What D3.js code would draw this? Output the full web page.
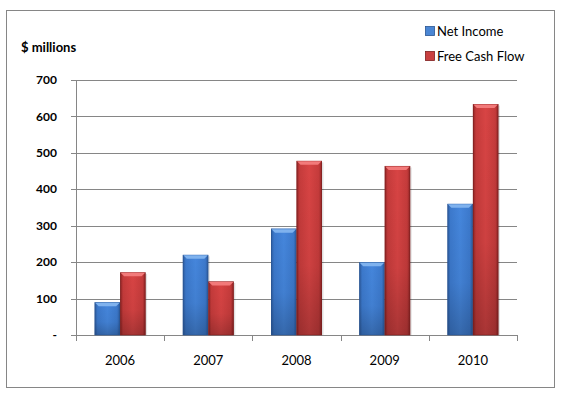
<!DOCTYPE html>
<html><head><meta charset="utf-8">
<script src="https://cdn.jsdelivr.net/npm/d3@7"></script>
<style>
html,body{margin:0;padding:0;background:#fff;}
svg{display:block;font-family:Lato,"Open Sans",sans-serif;}
</style></head>
<body>
<svg id="c" width="564" height="401"></svg>
<script>
const years = ["2006","2007","2008","2009","2010"];
const seriesNames = ["Net Income","Free Cash Flow"];
const netIncome = [90, 220, 292, 200, 360];
const freeCashFlow = [172, 147, 478, 464, 634];
const yTicks = [0,100,200,300,400,500,600,700];
const yTickLabels = ["-","100","200","300","400","500","600","700"];
const yLabel = "$ millions";

const svg = d3.select("#c");
const L = 76, R = 517, T = 80, B = 335;

const x = d3.scaleBand().domain(years).range([L, R]).paddingInner(0).paddingOuter(0);
const bw = 25.5;
const xs = d3.scaleBand().domain(seriesNames).range([0, bw*2]);
const y = d3.scaleLinear().domain([0,700]).range([B, T]);

const defs = svg.append("defs");
function grads(id, dark, mid, light, bottom){
  const g = defs.append("linearGradient").attr("id", id).attr("x1",0).attr("x2",1).attr("y1",0).attr("y2",0);
  [[0,dark],[0.12,mid],[0.5,light],[0.88,mid],[1,dark]].forEach(s=>g.append("stop").attr("offset",s[0]).attr("stop-color",s[1]));
  const v = defs.append("linearGradient").attr("id", id+"v").attr("x1",0).attr("x2",0).attr("y1",0).attr("y2",1);
  v.append("stop").attr("offset",0).attr("stop-color","#000").attr("stop-opacity",0);
  v.append("stop").attr("offset",0.6).attr("stop-color","#000").attr("stop-opacity",0.05);
  v.append("stop").attr("offset",1).attr("stop-color",bottom).attr("stop-opacity",0.22);
}
grads("gb", "#2c5a9c", "#3c79cc", "#4586dc", "#000");
grads("gr", "#8e2424", "#c53b3b", "#d84444", "#000");

// border
svg.append("rect").attr("x",6.5).attr("y",10.5).attr("width",548).attr("height",377)
  .attr("fill","none").attr("stroke","#868686").attr("stroke-width",1);

// gridlines
svg.append("g").selectAll("line").data(yTicks.filter(d=>d>0)).join("line")
  .attr("x1", L-5).attr("x2", R).attr("y1", d=>Math.round(y(d))+0.5).attr("y2", d=>Math.round(y(d))+0.5)
  .attr("stroke","#868686").attr("stroke-width",1);

// y axis line
svg.append("line").attr("x1",L+0.5).attr("x2",L+0.5).attr("y1",T).attr("y2",B+6).attr("stroke","#868686");
// x axis line
svg.append("line").attr("x1",L-5).attr("x2",R).attr("y1",B+0.5).attr("y2",B+0.5).attr("stroke","#868686");
// x ticks at category boundaries
const bounds = years.map(d=>x(d)).concat([R]);
svg.append("g").selectAll("line").data(bounds).join("line")
  .attr("x1",d=>Math.round(d)+0.5).attr("x2",d=>Math.round(d)+0.5).attr("y1",B).attr("y2",B+6).attr("stroke","#868686");

// y tick labels
svg.append("g").selectAll("text").data(yTicks).join("text")
  .attr("x", 57).attr("y", d=>y(d)).attr("dy","0.35em").attr("text-anchor","end")
  .attr("font-size",12).attr("font-weight",700).attr("fill","#000")
  .text((d,i)=>yTickLabels[i]);

// x labels
svg.append("g").selectAll("text").data(years).join("text")
  .attr("x", d=>x(d)+x.bandwidth()/2).attr("y", 360).attr("dy","0.35em").attr("text-anchor","middle")
  .attr("font-size",13).attr("fill","#000").text(d=>d);

// y title
svg.append("text").attr("x",21).attr("y",47).attr("dy","0.35em").attr("font-size",13).attr("font-weight",700)
  .attr("fill","#000").text(yLabel);

// bars
const data = [];
years.forEach((yr,i)=>{
  data.push({yr, s:seriesNames[0], v:netIncome[i], g:"gb", top:"#7fb2ee", edge:"#2a5592"});
  data.push({yr, s:seriesNames[1], v:freeCashFlow[i], g:"gr", top:"#f27a7a", edge:"#7e1f1f"});
});
const bars = svg.append("g").selectAll("g").data(data).join("g");
bars.each(function(d){
  const g = d3.select(this);
  const x0 = x(d.yr) + x.bandwidth()/2 - bw + xs(d.s);
  const w = xs.bandwidth();
  const y0 = y(d.v), h = B - y0;
  g.append("rect").attr("x",x0+1.5).attr("y",y0+1.5).attr("width",w).attr("height",h-1.5).attr("fill","#000").attr("opacity",0.12);
  g.append("rect").attr("x",x0).attr("y",y0).attr("width",w).attr("height",h).attr("fill",`url(#${d.g})`);
  g.append("rect").attr("x",x0).attr("y",y0).attr("width",w).attr("height",h).attr("fill",`url(#${d.g}v)`);
  g.append("rect").attr("x",x0+0.5).attr("y",y0+0.5).attr("width",w-1).attr("height",h-0.5).attr("fill","none").attr("stroke",d.edge).attr("stroke-opacity",0.6);
  const bv = 4;
  g.append("path").attr("d",`M${x0+0.5},${y0+0.5}L${x0+w-0.5},${y0+0.5}L${x0+w-bv},${y0+bv}L${x0+bv},${y0+bv}Z`).attr("fill",d.top);
});

// legend
const leg = svg.append("g").selectAll("g").data([{n:seriesNames[0],c:"#4a86d4",e:"#2a5592",y:31},{n:seriesNames[1],c:"#c94040",e:"#7e1f1f",y:56}]).join("g");
leg.append("rect").attr("x",425.5).attr("y",d=>d.y-4.5).attr("width",9).attr("height",9).attr("fill",d=>d.c).attr("stroke",d=>d.e).attr("stroke-width",0.8);
leg.append("text").attr("x",437).attr("y",d=>d.y).attr("dy","0.35em").attr("font-size",13).attr("fill","#000").text(d=>d.n);
</script>
</body></html>
